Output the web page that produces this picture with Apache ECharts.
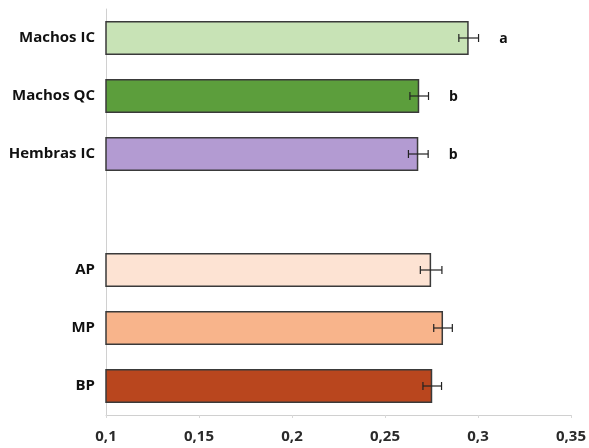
<!DOCTYPE html>
<html>
<head>
<meta charset="utf-8">
<script src="https://cdn.jsdelivr.net/npm/echarts@6/dist/echarts.min.js"></script>
<style>
  html, body { margin: 0; padding: 0; background: #fff; }
  #main { width: 589px; height: 448px; }
</style>
</head>
<body>
<div id="main"></div>
<script>
  // datos
  var categorias = ['Machos IC', 'Machos QC', 'Hembras IC', '', 'AP', 'MP', 'BP'];
  var valores = [0.295, 0.2684, 0.2679, null, 0.2748, 0.2812, 0.2754];
  var errores = [0.0053, 0.005, 0.0053, null, 0.0058, 0.005, 0.005];
  var letras = ['a', 'b', 'b', '', '', '', ''];
  var colores = ['#c8e3b6', '#5c9e3c', '#b39bd2', '#ffffff', '#fde3d3', '#f8b48b', '#b9461e'];
  var ticksX = [0.1, 0.15, 0.2, 0.25, 0.3, 0.35];

  var myChart = echarts.init(document.getElementById('main'));

  var datosBarra = valores.map(function (v, i) {
    return { value: v, itemStyle: { color: colores[i] } };
  });
  var datosError = valores.map(function (v, i) {
    return v == null ? [i, null, null, ''] : [i, v - errores[i], v + errores[i], letras[i]];
  });

  var option = {
    animation: false,
    grid: { left: 106, right: 14, top: 9, bottom: 33 },
    xAxis: {
      type: 'value',
      min: 0.1,
      max: 0.35,
      interval: 0.05,
      splitLine: { show: false },
      axisLine: { show: true, lineStyle: { color: '#d0d0d0' } },
      axisTick: { show: true, length: 3, lineStyle: { color: '#d8d8d8' } },
      axisLabel: {
        margin: 14,
        color: '#2a2a2a',
        fontSize: 15,
        fontFamily: 'Open Sans',
        fontWeight: 'bold',
        formatter: function (v) {
          var t = ticksX.find(function (x) { return Math.abs(x - v) < 1e-9; });
          return t == null ? '' : String(t).replace('.', ',');
        }
      }
    },
    yAxis: {
      type: 'category',
      inverse: true,
      data: categorias,
      axisLine: { show: true, lineStyle: { color: '#d0d0d0' } },
      axisTick: { show: false },
      axisLabel: {
        margin: 11,
        color: '#111',
        fontSize: 15,
        fontWeight: 'bold',
        fontFamily: 'Open Sans'
      }
    },
    series: [{
      type: 'bar',
      barWidth: 34,
      data: datosBarra,
      itemStyle: { borderColor: '#3a3a3a', borderWidth: 1.5 }
    }, {
      type: 'custom',
      data: datosError,
      z: 5,
      renderItem: function (params, api) {
        if (api.value(1) == null || isNaN(api.value(1))) return;
        var cat = api.value(0);
        var p1 = api.coord([api.value(1), cat]);
        var p2 = api.coord([api.value(2), cat]);
        var h = 4;
        var st = { stroke: '#222', lineWidth: 1.2 };
        var hijos = [
          { type: 'line', shape: { x1: p1[0], y1: p1[1], x2: p2[0], y2: p2[1] }, style: st },
          { type: 'line', shape: { x1: p1[0], y1: p1[1] - h, x2: p1[0], y2: p1[1] + h }, style: st },
          { type: 'line', shape: { x1: p2[0], y1: p2[1] - h, x2: p2[0], y2: p2[1] + h }, style: st }
        ];
        var letra = letras[params.dataIndex];
        if (letra) {
          hijos.push({
            type: 'text',
            style: {
              x: p2[0] + 25, y: p2[1] + 1,
              text: letra,
              fill: '#111',
              font: 'bold 14px "Open Sans"',
              verticalAlign: 'middle',
              align: 'center'
            }
          });
        }
        return { type: 'group', children: hijos };
      }
    }]
  };
  myChart.setOption(option);
</script>
</body>
</html>
